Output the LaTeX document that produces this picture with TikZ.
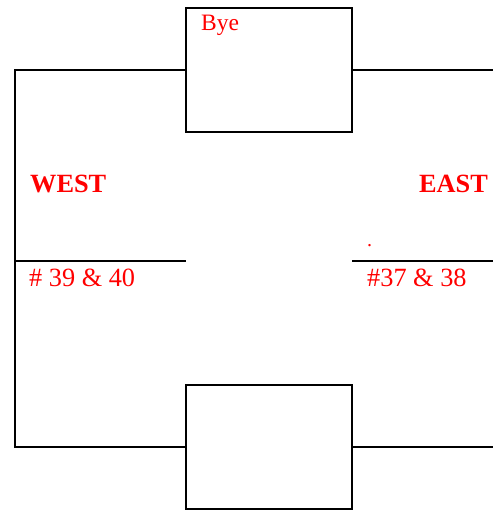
\documentclass[tikz,border=0pt]{standalone}
\usepackage{fontspec}
\setmainfont{Liberation Serif}
\begin{document}
\begin{tikzpicture}[x=1pt,y=-1pt,
  box/.style={draw=black,line width=2pt,minimum width=166pt,minimum height=124pt,inner sep=0pt},
  wire/.style={draw=black,line width=2pt},
  lbl/.style={text=red,inner sep=0pt,font=\fontsize{26.3}{30}\selectfont},
  big/.style={text=red,inner sep=0pt,font=\bfseries\fontsize{26.3}{30}\selectfont}]
\useasboundingbox (0,0) rectangle (493,511);
\node[box] (top) at (269,70) {};
\node[box] (bot) at (269,447) {};
\coordinate (tl) at (15,70);
\coordinate (bl) at (15,447);
\coordinate (tr) at (493,70);
\coordinate (br) at (493,447);
\coordinate (ml1) at (15,261);
\coordinate (ml2) at (186,261);
\coordinate (mr1) at (352,261);
\coordinate (mr2) at (493,261);
\draw[wire] (top.west) -- (tl) -- (bl) -- (bot.west);
\draw[wire] (top.east) -- (tr);
\draw[wire] (bot.east) -- (br);
\draw[wire] (ml1) -- (ml2);
\draw[wire] (mr1) -- (mr2);
\node[lbl,anchor=base west,font=\fontsize{23.5}{27}\selectfont] (bye) at (201,30.5) {Bye};
\node[big,anchor=base west] (west) at (30,192) {WEST};
\node[big,anchor=base east] (east) at (488,192) {EAST};
\node[lbl,anchor=base west] (w) at (29,286.5) {\# 39 \& 40};
\node[lbl,anchor=base west] (e) at (367,286.5) {\#37 \& 38};
\node[lbl,anchor=base west,font=\fontsize{20}{22}\selectfont] (dot) at (367,246) {.};
\end{tikzpicture}
\end{document}
